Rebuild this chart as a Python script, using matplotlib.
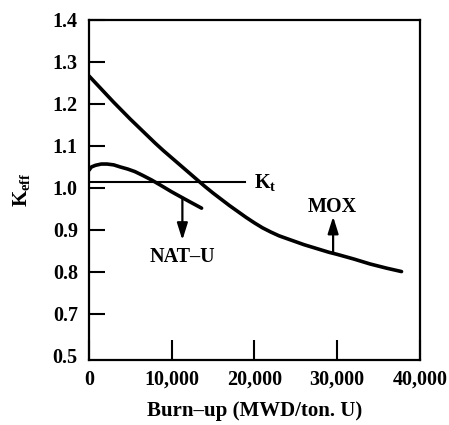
import matplotlib
matplotlib.use("Agg")
import matplotlib.pyplot as plt
import numpy as np

plt.rcParams.update({
    "font.family": "Liberation Serif",
    "font.weight": "bold",
    "axes.labelweight": "bold",
    "font.size": 14.5,
})

# MOX fuel K_eff vs burn-up
mox_burnup = [0, 1000, 2000, 3000, 4000, 5000, 6000, 7000, 8000, 9000, 10000,
              11000, 12000, 13000, 14000, 15000, 16000, 17000, 18000, 19000,
              20000, 21000, 22000, 23000, 24000, 25000, 26000, 27000, 28000,
              29000, 30000, 32000, 34000, 36000, 37790]
mox_keff = [1.267, 1.246, 1.225, 1.204, 1.184, 1.164, 1.145, 1.126, 1.107, 1.089, 1.072,
            1.055, 1.038, 1.021, 1.004, 0.988, 0.973, 0.958, 0.944, 0.930,
            0.917, 0.905, 0.895, 0.886, 0.879, 0.872, 0.865, 0.859, 0.853,
            0.847, 0.842, 0.831, 0.819, 0.809, 0.801]

# natural uranium fuel
natu_burnup = [0, 300, 800, 1500, 2200, 3000, 3800, 4700, 5560, 6500, 7580,
               8800, 9990, 11000, 12300, 13620]
natu_keff = [1.042, 1.050, 1.054, 1.057, 1.057, 1.055, 1.050, 1.045, 1.039, 1.030, 1.019,
             1.005, 0.991, 0.980, 0.966, 0.952]

# threshold K_t
kt_value = 1.015
kt_end = 18860

x_ticks = [0, 10000, 20000, 30000, 40000]
x_labels = ["0", "10,000", "20,000", "30,000", "40,000"]
y_ticks = [0.6, 0.7, 0.8, 0.9, 1.0, 1.1, 1.2, 1.3, 1.4]
y_labels = ["0.5", "0.7", "0.8", "0.9", "1.0", "1.1", "1.2", "1.3", "1.4"]

fig = plt.figure(figsize=(4.49, 4.25), dpi=100)
ax = fig.add_axes([0.198, 0.153, 0.737, 0.8])

ax.plot(mox_burnup, mox_keff, color="black", lw=2.6, solid_capstyle="round")
ax.plot(natu_burnup, natu_keff, color="black", lw=2.6, solid_capstyle="round")
ax.plot([0, kt_end], [kt_value, kt_value], color="black", lw=1.5)

arrow_kw = dict(arrowstyle="-|>,head_length=0.7,head_width=0.22", lw=1.6,
                color="black", shrinkA=0, shrinkB=0)
ax.annotate("", xy=(11300, 0.876), xytext=(11300, 0.975), arrowprops=arrow_kw)
ax.annotate("", xy=(29520, 0.932), xytext=(29520, 0.846), arrowprops=arrow_kw)

ax.text(11300, 0.836, "NAT\u2013U", ha="center", va="center")
ax.text(29450, 0.955, "MOX", ha="center", va="center")
ax.text(20000, 1.011, r"K$_\mathregular{t}$", ha="left", va="center")

ax.set_xlim(0, 40000)
ax.set_ylim(0.5905, 1.4)
ax.set_xticks(x_ticks)
ax.set_xticklabels(x_labels)
ax.set_yticks(y_ticks)
ax.set_yticklabels(y_labels)
ax.yaxis.get_major_ticks()[0].tick1line.set_visible(False)

ax.tick_params(axis="y", direction="in", length=11.5, width=1.5, pad=8)
ax.tick_params(axis="x", direction="in", length=14.5, width=1.5, pad=7)
for s in ax.spines.values():
    s.set_linewidth(1.6)

ax.set_xlabel("Burn\u2013up (MWD/ton. U)", fontsize=15, labelpad=8)
ax.set_ylabel(r"K$_\mathregular{eff}$", fontsize=15, labelpad=14)

fig.savefig("out.png", dpi=100)
